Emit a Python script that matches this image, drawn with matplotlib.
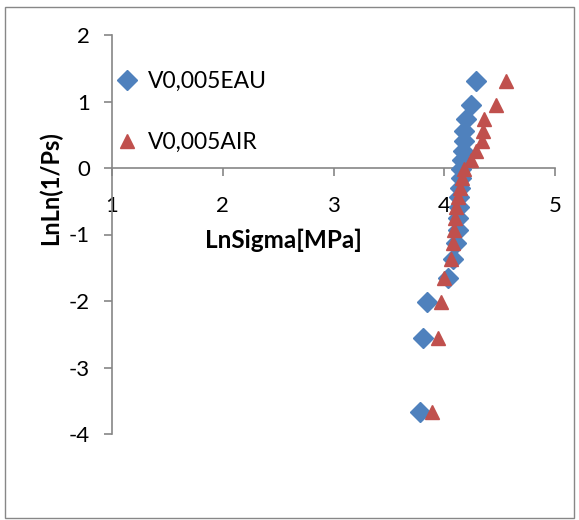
import matplotlib
matplotlib.use('Agg')
import matplotlib.pyplot as plt
from matplotlib.patches import Rectangle

plt.rcParams['font.family'] = ['Lato', 'DejaVu Sans']
plt.rcParams['axes.unicode_minus'] = False

# LnLn(1/Ps) for each of the 20 ranked specimens (same ranks in both series)
lnln_ps = [-3.676, -2.552, -2.013, -1.648, -1.367, -1.135, -0.934, -0.755,
           -0.592, -0.440, -0.295, -0.156, -0.019, 0.117, 0.255, 0.400,
           0.556, 0.732, 0.952, 1.305]

# LnSigma [MPa]
ln_sigma_eau = [3.78, 3.81, 3.84, 4.03, 4.08, 4.11, 4.12, 4.12, 4.13, 4.13,
                4.14, 4.15, 4.15, 4.16, 4.165, 4.18, 4.18, 4.195, 4.24, 4.29]
ln_sigma_air = [3.885, 3.94, 3.975, 4.0, 4.06, 4.075, 4.09, 4.10, 4.11, 4.12,
                4.14, 4.16, 4.18, 4.24, 4.29, 4.345, 4.35, 4.355, 4.47, 4.555]

labels = ['V0,005EAU', 'V0,005AIR']
x_ticks = [1, 2, 3, 4, 5]
y_ticks = [-4, -3, -2, -1, 0, 1, 2]

W, H = 579, 520
fig = plt.figure(figsize=(W / 100, H / 100), dpi=100)
ax = fig.add_axes([112 / W, 1 - 434 / H, (555 - 112) / W, (434 - 35) / H])

ax.plot(ln_sigma_eau, lnln_ps, 'D', color='#4F81BD', ms=10, mec='#4F81BD',
        label=labels[0], clip_on=False, zorder=3)
ax.plot(ln_sigma_air, lnln_ps, '^', color='#C0504D', ms=10.5, mec='#C0504D',
        label=labels[1], clip_on=False, zorder=3)

ax.set_xlim(1, 5)
ax.set_ylim(-4, 2)
ax.set_xticks(x_ticks)
ax.set_yticks(y_ticks)

grey = '#868686'
for s in ['top', 'right']:
    ax.spines[s].set_visible(False)
ax.spines['bottom'].set_position(('data', 0))
ax.spines['bottom'].set_color(grey)
ax.spines['left'].set_color(grey)
ax.spines['bottom'].set_linewidth(1.2)
ax.spines['left'].set_linewidth(1.2)
ax.tick_params(axis='y', direction='out', length=6, width=1.2, color=grey,
               labelsize=16, pad=10)
ax.tick_params(axis='x', direction='out', length=6, width=1.2, color=grey,
               labelsize=16, pad=14)

fig.text(50 / W, 1 - 188 / H, 'LnLn(1/Ps)', rotation=90, fontsize=17,
         fontweight='bold', ha='center', va='center')
fig.text(283 / W, 1 - 240 / H, 'LnSigma[MPa]', fontsize=17.5,
         fontweight='bold', ha='center', va='center')

ax.legend(loc='upper left', bbox_to_anchor=(118 / W, 1 - 71 / H),
          bbox_transform=fig.transFigure, frameon=False, fontsize=16.5,
          numpoints=1, handlelength=0.8, handletextpad=0.5,
          labelspacing=1.75, borderpad=0, borderaxespad=0)

fig.patches.append(Rectangle((5 / W, 2 / H), 569 / W, 511 / H,
                             transform=fig.transFigure, fill=False,
                             edgecolor='#878787', lw=1))

fig.savefig('out.png', dpi=100)
